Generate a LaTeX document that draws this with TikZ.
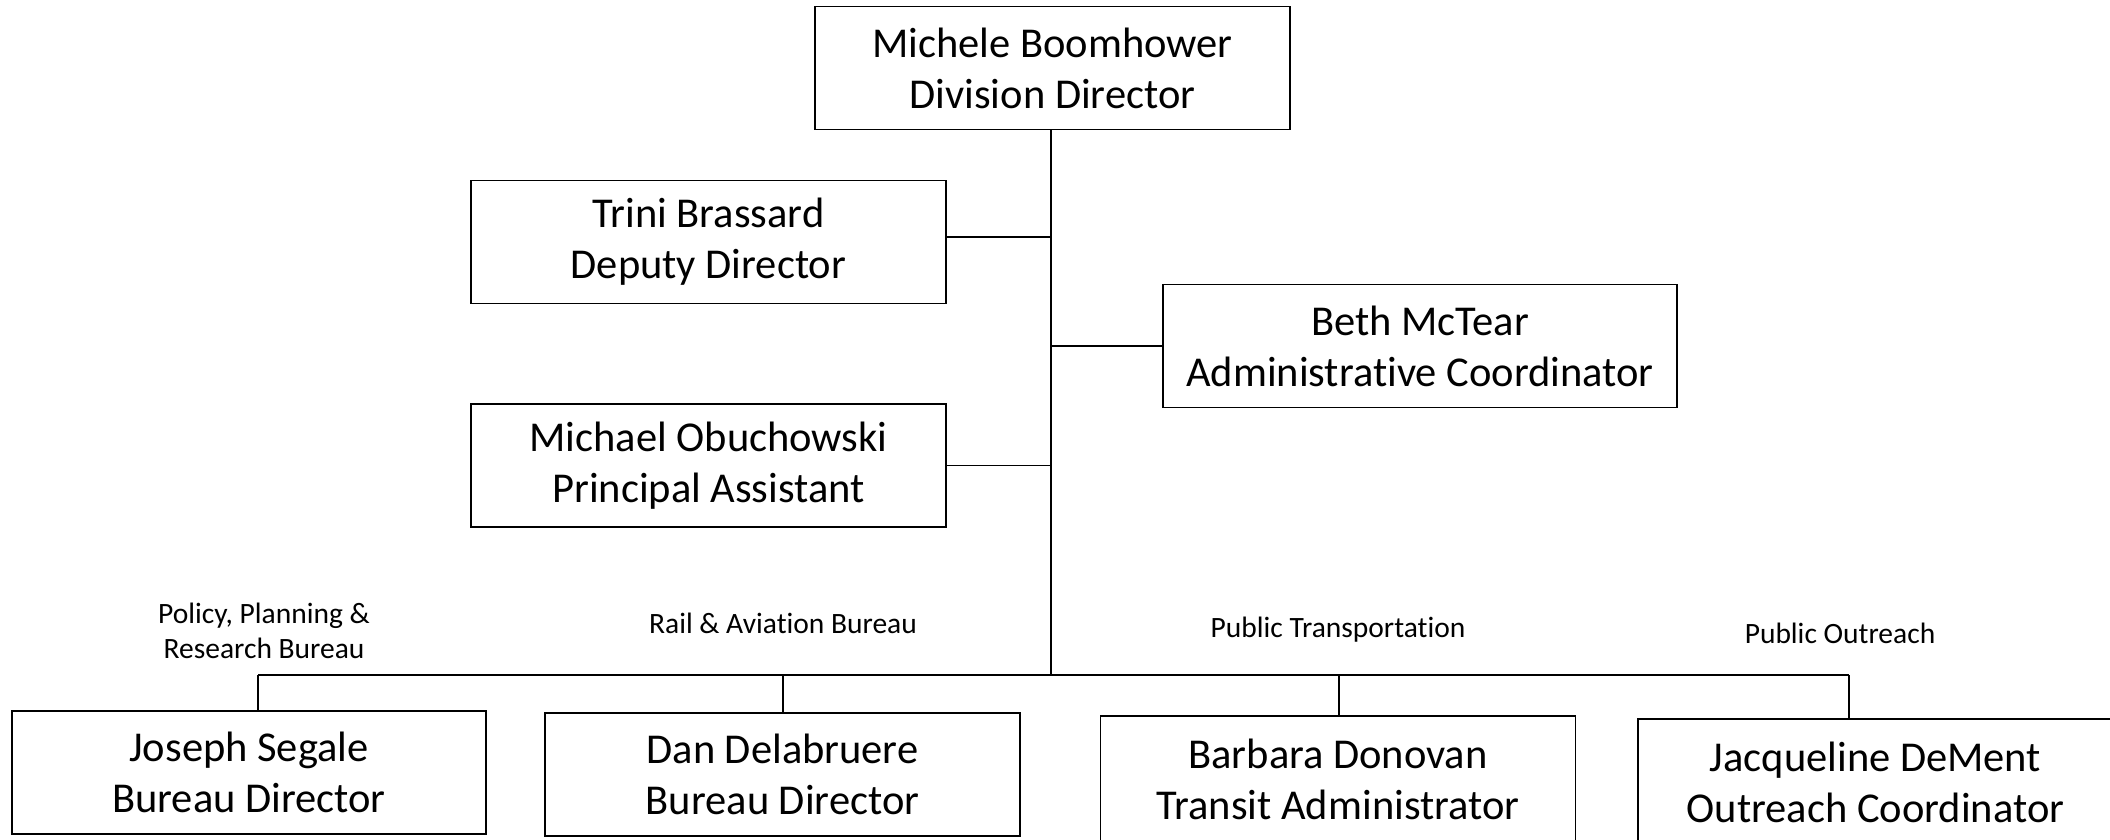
\documentclass[tikz,border=0pt]{standalone}
\usepackage{fontspec}
\setmainfont{Carlito}[Ligatures={NoCommon,NoContextual}]
\begin{document}
\begin{tikzpicture}[x=1pt,y=-1pt,
  person/.style={draw=black, line width=1.6pt, minimum width=475pt, minimum height=123pt, align=center, inner sep=0pt, font=\fontsize{42.5}{51}\selectfont},
  unitlabel/.style={align=center, inner sep=0pt, font=\fontsize{29.5}{35}\selectfont},
  link/.style={line width=1.6pt},
  bus/.style={line width=2.4pt}]
\useasboundingbox (0,0) rectangle (2110,839);
\clip (0,0) rectangle (2110,839);
\node[person] (top) at (1052.5,68) {Michele Boomhower\\Division Director};
\node[person] (trini) at (708.5,242) {Trini Brassard\\Deputy Director};
\node[person, minimum width=514pt] (beth) at (1420,346) {Beth McTear\\Administrative Coordinator};
\node[person] (michael) at (708.5,465.5) {Michael Obuchowski\\Principal Assistant};
\node[person, minimum width=474pt] (joseph) at (249,772.5) {Joseph Segale\\Bureau Director};
\node[person] (dan) at (782.5,774.5) {Dan Delabruere\\Bureau Director};
\node[person, minimum height=126pt] (barbara) at (1338,779) {Barbara Donovan\\Transit Administrator};
\node[person, minimum height=126pt] (jacq) at (1875.5,782) {Jacqueline DeMent\\Outreach Coordinator};
\node[unitlabel] (l1) at (264,631) {Policy, Planning \&\\Research Bureau};
\node[unitlabel] (l2) at (783,623) {Rail \& Aviation Bureau};
\node[unitlabel] (l3) at (1338,630) {Public Transportation};
\node[unitlabel] (l4) at (1840,633) {Public Outreach};
\coordinate (trunk) at (1051,675);
\coordinate (tJ) at (946,237);
\coordinate (bJ) at (258,675);
\coordinate (bD) at (783,675);
\coordinate (bB) at (1339,675);
\coordinate (bQ) at (1849,675);
\draw[link] (top.south -| trunk) -- (trunk);
\draw[link] (trini.east |- tJ) -- (tJ -| trunk);
\draw[link] (beth.west) -- (beth.west -| trunk);
\draw[link] (michael.east) -- (michael.east -| trunk);
\draw[bus] (bJ) -- (bQ);
\draw[link] (bJ) -- (bJ |- joseph.north);
\draw[link] (bD) -- (bD |- dan.north);
\draw[link] (bB) -- (bB |- barbara.north);
\draw[link] (bQ) -- (bQ |- jacq.north);
\end{tikzpicture}
\end{document}
